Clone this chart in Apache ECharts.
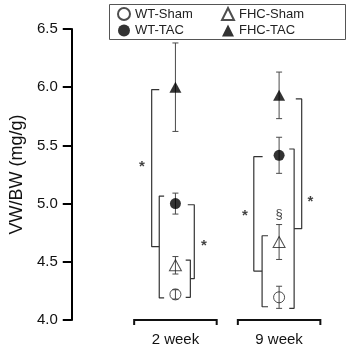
<!DOCTYPE html>
<html>
<head>
<meta charset="utf-8">
<script src="https://cdn.jsdelivr.net/npm/echarts@6/dist/echarts.min.js"></script>
<style>
  html, body { margin: 0; padding: 0; background: #fff; }
  #chart { width: 347px; height: 349px; }
</style>
</head>
<body>
<div id="chart"></div>
<script>
// time points (x = index + 1)
const groups = ["2 week", "9 week"];
const yTicks = [4.0, 4.5, 5.0, 5.5, 6.0, 6.5];

// VW/BW means and error (mg/g)
const wtSham = [4.22, 4.195];
const wtShamErr = [0.04, 0.095];
const wtTac = [5.0, 5.415];
const wtTacErr = [0.09, 0.155];
const fhcSham = [4.47, 4.67];
const fhcShamErr = [0.075, 0.15];
const fhcTac = [6.0, 5.93];
const fhcTacErr = [0.38, 0.2];

// significance brackets: group, x offset, top, bottom, top cap, bottom cap
const bracketGroup = [0, 0, 0, 0, 1, 1, 1, 1];
const bracketOffset = [-0.156, 0.144, 0.182, -0.229, -0.164, -0.244, 0.145, 0.218];
const bracketTop = [5.065, 4.515, 4.99, 5.98, 4.724, 5.403, 5.469, 5.899];
const bracketBottom = [4.19, 4.195, 4.355, 4.63, 4.114, 4.42, 4.10, 4.785];
const bracketTopCap = [0.047, -0.045, -0.063, 0.073, 0.057, 0.085, -0.047, -0.057];
const bracketBottomCap = [0.047, -0.045, -0.038, 0.073, 0.057, 0.08, -0.047, -0.073];

// significance marks: group, x offset, y, symbol
const markGroup = [0, 0, 1, 1, 1];
const markOffset = [-0.324, 0.276, -0.329, 0.303, 0];
const markY = [5.35, 4.67, 4.925, 5.05, 4.91];
const markText = ["*", "*", "*", "*", "§"];

const font = "Liberation Sans, Arial, Helvetica, sans-serif";
const chart = echarts.init(document.getElementById("chart"));

const toPoints = (means, errs) => means.map((m, i) => [i + 1, m, errs[i]]);

const errorBarItem = (params, api) => {
  const x = api.value(0);
  const m = api.value(1);
  const e = api.value(2);
  const top = api.coord([x, m + e]);
  const bot = api.coord([x, m - e]);
  const hw = 3;
  const style = { stroke: "#4a4a4a", lineWidth: 1 };
  return {
    type: "group",
    children: [
      { type: "line", shape: { x1: top[0], y1: top[1], x2: bot[0], y2: bot[1] }, style },
      { type: "line", shape: { x1: top[0] - hw, y1: top[1], x2: top[0] + hw, y2: top[1] }, style },
      { type: "line", shape: { x1: bot[0] - hw, y1: bot[1], x2: bot[0] + hw, y2: bot[1] }, style },
    ],
  };
};

const groupBaseItem = (params, api) => {
  const x = api.value(0);
  const l = api.coord([x - 0.398, 4.0]);
  const r = api.coord([x + 0.398, 4.0]);
  return {
    type: "polyline",
    shape: { points: [[l[0], l[1] + 5], [l[0], l[1]], [r[0], r[1]], [r[0], r[1] + 5]] },
    style: { stroke: "#111", lineWidth: 2, fill: null },
  };
};

const bracketSeries = bracketGroup.map((g, i) => {
  const x = g + 1 + bracketOffset[i];
  return {
    type: "line",
    symbol: "none",
    silent: true,
    z: 1,
    lineStyle: { color: "#333", width: 1.2 },
    data: [
      [x + bracketTopCap[i], bracketTop[i]],
      [x, bracketTop[i]],
      [x, bracketBottom[i]],
      [x + bracketBottomCap[i], bracketBottom[i]],
    ],
  };
});

const openStyle = { color: "rgba(0,0,0,0)", borderColor: "#222", borderWidth: 1 };
const filledStyle = { color: "#000" };

const pointSeries = (name, means, symbol, size, style) => ({
  name,
  type: "scatter",
  symbol,
  symbolSize: size,
  z: 5,
  itemStyle: style,
  data: means.map((m, i) => [i + 1, m]),
});

const option = {
  animation: false,
  textStyle: { fontFamily: font },
  grid: { left: 67, top: 29, width: 274.3, bottom: 29 },
  legend: [
    {
      data: ["WT-Sham", "WT-TAC"],
      orient: "vertical",
      left: 117,
      top: 7,
      padding: 0,
      itemGap: 3,
      itemWidth: 12,
      itemHeight: 12,
      textStyle: { fontSize: 13, color: "#222", fontFamily: font },
    },
    {
      data: ["FHC-Sham", "FHC-TAC"],
      orient: "vertical",
      left: 221,
      top: 7,
      padding: 0,
      itemGap: 3,
      itemWidth: 12,
      itemHeight: 12,
      textStyle: { fontSize: 13, color: "#222", fontFamily: font },
    },
  ],
  graphic: [
    {
      type: "rect",
      left: 107,
      top: 2,
      shape: { width: 236, height: 35 },
      style: { fill: null, stroke: "#555", lineWidth: 1 },
    },
  ],
  xAxis: {
    type: "value",
    min: 0,
    max: 2.6,
    interval: 1,
    axisLine: { show: false },
    axisTick: { show: false },
    splitLine: { show: false },
    axisLabel: {
      margin: 12,
      fontSize: 15,
      color: "#111",
      fontFamily: font,
      formatter: (v) => (v >= 1 && v <= groups.length && Number.isInteger(v) ? groups[v - 1] : ""),
    },
  },
  yAxis: {
    type: "value",
    min: yTicks[0],
    max: yTicks[yTicks.length - 1],
    interval: 0.5,
    name: "VW/BW (mg/g)",
    nameLocation: "middle",
    nameGap: 44,
    nameTextStyle: { fontSize: 18, color: "#111", fontFamily: font },
    axisLine: { show: true, lineStyle: { color: "#000", width: 2 } },
    axisTick: { show: true, length: 9, lineStyle: { color: "#000", width: 2 } },
    splitLine: { show: false },
    axisLabel: {
      margin: 14,
      fontSize: 15,
      color: "#111",
      fontFamily: font,
      formatter: (v) => v.toFixed(1),
    },
  },
  series: [
    ...bracketSeries,
    {
      type: "custom",
      silent: true,
      z: 2,
      renderItem: groupBaseItem,
      data: groups.map((g, i) => [i + 1, 4.0]),
    },
    {
      type: "custom",
      silent: true,
      z: 3,
      renderItem: errorBarItem,
      encode: { x: 0, y: 1 },
      data: [
        ...toPoints(wtSham, wtShamErr),
        ...toPoints(wtTac, wtTacErr),
        ...toPoints(fhcSham, fhcShamErr),
        ...toPoints(fhcTac, fhcTacErr),
      ],
    },
    pointSeries("WT-Sham", wtSham, "circle", 11, openStyle),
    pointSeries("WT-TAC", wtTac, "circle", 11, filledStyle),
    pointSeries("FHC-Sham", fhcSham, "triangle", [12, 11], openStyle),
    pointSeries("FHC-TAC", fhcTac, "triangle", [12, 11], filledStyle),
    {
      type: "scatter",
      silent: true,
      symbolSize: 1,
      z: 6,
      itemStyle: { color: "rgba(0,0,0,0)" },
      label: {
        show: true,
        position: "inside",
        formatter: "{b}",
        fontSize: 15,
        fontWeight: "bold",
        color: "#111",
        fontFamily: font,
      },
      data: markGroup.map((g, i) => ({
        name: markText[i],
        value: [g + 1 + markOffset[i], markY[i]],
        label: markText[i] === "*" ? { offset: [0, 4] } : { fontSize: 13, fontWeight: "normal" },
      })),
    },
  ],
};

chart.setOption(option);
window.addEventListener("resize", () => chart.resize());
</script>
</body>
</html>
